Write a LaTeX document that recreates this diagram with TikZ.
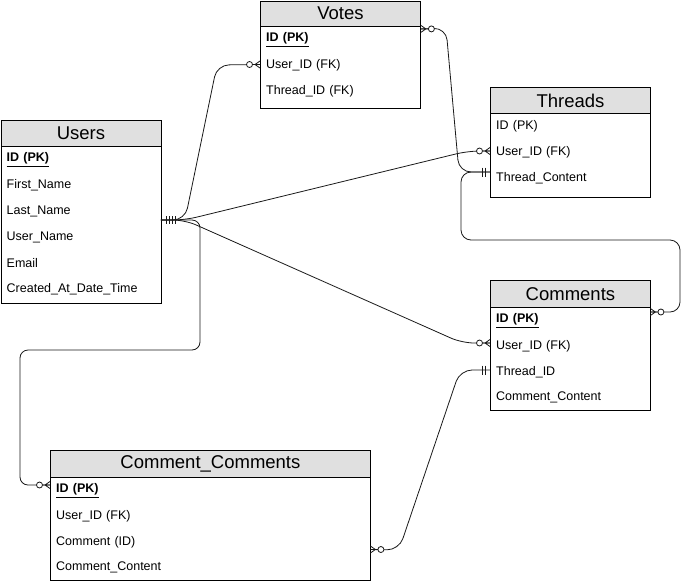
\documentclass[tikz,border=0pt]{standalone}
\usepackage{fontspec}
\setmainfont{Liberation Sans}
\usetikzlibrary{calc}
\definecolor{hdrgray}{RGB}{224,224,224}
\definecolor{lnk}{RGB}{25,25,25}
\tikzset{
  hdr/.style={draw=black, fill=hdrgray, line width=0.9pt, inner sep=0pt, anchor=north west, font=\fontsize{18.5}{20}\selectfont},
  bodybox/.style={draw=black, line width=0.9pt, inner sep=0pt, anchor=north west},
  row/.style={anchor=west, inner xsep=6pt, inner ysep=0pt, minimum height=26pt, align=left, yshift=-2pt, font=\fontsize{12.5}{14}\selectfont},
  conn/.style={draw=lnk, line width=0.8pt, rounded corners=12pt},
  zmany/.pic={\draw[lnk, line width=0.8pt] (0,-3.5) -- (5,0) -- (0,3.5) (0,0) -- (7,0);
              \draw[lnk, line width=0.8pt, fill=white] (10.5,0) circle (3pt);},
  mone/.pic={\draw[lnk, line width=0.8pt] (5,-4.5) -- (5,4.5) (8,-4.5) -- (8,4.5);},
  mfour/.pic={\draw[lnk, line width=0.8pt] (5,-4) -- (5,4) (8,-4) -- (8,4) (11,-4) -- (11,4) (14,-4) -- (14,4);}
}
\begin{document}
\begin{tikzpicture}[x=1pt,y=-1pt]
\useasboundingbox (0,0) rectangle (690,584);

% ---------- Votes ----------
\node[hdr, minimum width=160pt, minimum height=25.5pt] (votes) at (260,0.5) {Votes};
\node[bodybox, minimum width=160pt, minimum height=82pt] (votesB) at (260,26) {};
\node[row, text width=148pt] (vID) at (260,37.5) {\underline{\textbf{ID (PK)}}};
\node[row, text width=148pt] (vUser) at (260,63.5) {User\_ID (FK)};
\node[row, text width=148pt] (vThread) at (260,89.5) {Thread\_ID (FK)};

% ---------- Threads ----------
\node[hdr, minimum width=160pt, minimum height=26pt] (threads) at (490,87) {Threads};
\node[bodybox, minimum width=160pt, minimum height=84pt] (threadsB) at (490,113) {};
\node[row, text width=148pt] (tID) at (490,124.5) {ID (PK)};
\node[row, text width=148pt] (tUser) at (490,150.5) {User\_ID (FK)};
\node[row, text width=148pt] (tCont) at (490,176.5) {Thread\_Content};

% ---------- Users ----------
\node[hdr, minimum width=160pt, minimum height=26pt] (users) at (0.5,120) {Users};
\node[bodybox, minimum width=160pt, minimum height=157pt] (usersB) at (0.5,146) {};
\node[row, text width=148pt] (uID) at (0.5,157.5) {\underline{\textbf{ID (PK)}}};
\node[row, text width=148pt] (uFirst) at (0.5,183.5) {First\_Name};
\node[row, text width=148pt] (uLast) at (0.5,209.5) {Last\_Name};
\node[row, text width=148pt] (uUName) at (0.5,235.5) {User\_Name};
\node[row, text width=148pt] (uEmail) at (0.5,261.5) {Email};
\node[row, text width=148pt] (uCreated) at (0.5,287.5) {Created\_At\_Date\_Time};

% ---------- Comments ----------
\node[hdr, minimum width=160pt, minimum height=27pt] (comments) at (490,280) {Comments};
\node[bodybox, minimum width=160pt, minimum height=103pt] (commentsB) at (490,307) {};
\node[row, text width=148pt] (cID) at (490,318.5) {\underline{\textbf{ID (PK)}}};
\node[row, text width=148pt] (cUser) at (490,344) {User\_ID (FK)};
\node[row, text width=148pt] (cThread) at (490,370) {Thread\_ID};
\node[row, text width=148pt] (cCont) at (490,395.5) {Comment\_Content};

% ---------- Comment_Comments ----------
\node[hdr, minimum width=320pt, minimum height=27pt] (cc) at (50,450) {Comment\_Comments};
\node[bodybox, minimum width=320pt, minimum height=103pt] (ccB) at (50,477) {};
\node[row, text width=308pt] (ccID) at (50,488.5) {\underline{\textbf{ID (PK)}}};
\node[row, text width=308pt] (ccUser) at (50,514) {User\_ID (FK)};
\node[row, text width=308pt] (ccComment) at (50,540) {Comment (ID)};
\node[row, text width=308pt] (ccCont) at (50,565.5) {Comment\_Content};

% ---------- connector end points ----------
\coordinate (uOut) at ($(uLast.east)+(0,8.5)$);
\coordinate (vIn) at ($(vUser.west)+(0,-1)$);
\coordinate (vOut) at ($(votes.south east)+(0,2)$);
\coordinate (tUserIn) at ($(tUser.west)+(0,-1.5)$);
\coordinate (tContIn) at ($(tCont.west)+(0,-6.5)$);
\coordinate (cUserIn) at ($(cUser.west)+(0,-3)$);
\coordinate (cRightIn) at ($(cID.east)+(0,-8.5)$);
\coordinate (cThreadOut) at ($(cThread.west)+(0,-2)$);
\coordinate (ccIn) at ($(ccID.west)+(0,-5.5)$);
\coordinate (ccRightIn) at ($(ccComment.east)+(0,7.5)$);

% ---------- connectors ----------
\draw[conn] (uOut) -- (185,220) -- (217,65) -- (vIn);
\draw[conn] (uOut) -- (185,220) -- (468,151) -- (tUserIn);
\draw[conn] (uOut) -- (185,220) -- (462,343) -- (cUserIn);
\draw[conn, rounded corners=8pt] (uOut) -- (200,220) -- (200,350) -- (20,350) -- (20,485) -- (ccIn);
\draw[conn] (vOut) -- (446,28) -- (459,172) -- (tContIn);
\draw[conn, rounded corners=10pt] (tContIn) -- (461,172) -- (461,240) -- (680,240) -- (680,312) -- (cRightIn);
\draw[conn] (cThreadOut) -- (460,370) -- (399,550) -- (ccRightIn);

% ---------- end markers ----------
\pic at (uOut) {mfour};
\pic[xscale=-1] at (vIn) {zmany};
\pic[xscale=-1] at (tUserIn) {zmany};
\pic[xscale=-1] at (cUserIn) {zmany};
\pic[xscale=-1] at (ccIn) {zmany};
\pic at (vOut) {zmany};
\pic[xscale=-1] at (tContIn) {mone};
\pic at (cRightIn) {zmany};
\pic[xscale=-1] at (cThreadOut) {mone};
\pic at (ccRightIn) {zmany};
\end{tikzpicture}
\end{document}
